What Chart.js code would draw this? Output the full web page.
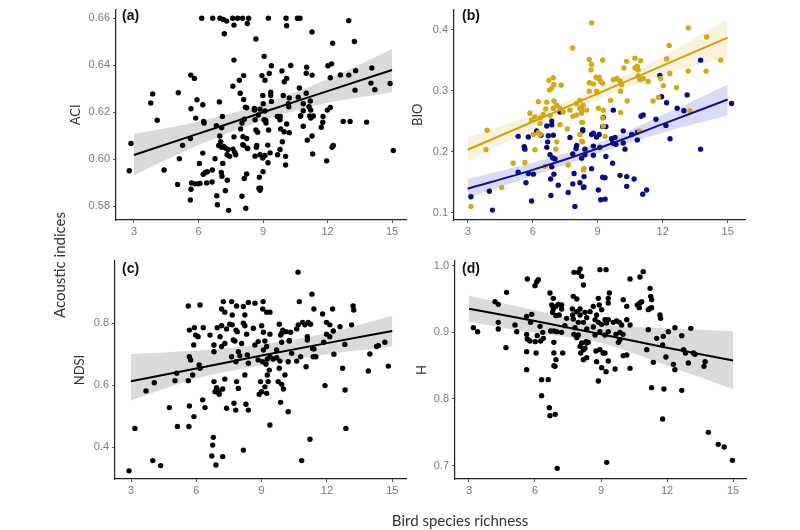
<!DOCTYPE html>
<html>
<head>
<meta charset="utf-8">
<script src="https://cdn.jsdelivr.net/npm/chart.js@4.4.0/dist/chart.umd.min.js"></script>
<style>
  body { margin: 0; width: 800px; height: 530px; background: #fff; position: relative; overflow: hidden; }
  canvas { position: absolute; }
  .tag { position: absolute; font: bold 14px "Liberation Sans", Arial, sans-serif; color: #111; line-height: 16px; }
  .outer { position: absolute; font: 15px Lato, sans-serif; color: #333; white-space: nowrap; transform: translate(-50%, -50%); }
</style>
</head>
<body>
<canvas id="chartA" width="350" height="245" style="left:60px;top:0px"></canvas>
<canvas id="chartB" width="349" height="245" style="left:400px;top:0px"></canvas>
<canvas id="chartC" width="350" height="259" style="left:60px;top:245px"></canvas>
<canvas id="chartD" width="350" height="259" style="left:400px;top:245px"></canvas>
<div class="tag" style="left:122px;top:7px">(a)</div>
<div class="tag" style="left:462px;top:7px">(b)</div>
<div class="tag" style="left:122px;top:260px">(c)</div>
<div class="tag" style="left:462px;top:260px">(d)</div>
<div class="outer" style="left:59px;top:265px;transform:translate(-50%,-50%) rotate(-90deg)">Acoustic indices</div>
<div class="outer" style="left:460px;top:520px">Bird species richness</div>
<script>
// richness ticks shared by all panels
const xTicks = [3, 6, 9, 12, 15];
const xTickLabels = ['3', '6', '9', '12', '15'];
// x positions where the fitted lines and bands were read
const fitX = [3, 6, 9, 12, 15];

// (a) ACI
const aciTicks = [0.58, 0.60, 0.62, 0.64, 0.66];
const aciTickLabels = ['0.58', '0.60', '0.62', '0.64', '0.66'];
const aciPoints = [[6.15,0.66],[6.66,0.66],[7.0,0.66],[7.15,0.6595],[7.31,0.6588],[7.59,0.66],[7.82,0.66],[8.05,0.66],[8.33,0.66],[7.2,0.6534],[7.65,0.6571],[8.27,0.6578],[8.67,0.6512],[7.65,0.6422],[5.64,0.6358],[5.81,0.6344],[8.1,0.6356],[7.9,0.6336],[7.6,0.6311],[7.94,0.6281],[3.87,0.6278],[5.06,0.6283],[3.78,0.6239],[5.93,0.6253],[6.2,0.6232],[5.65,0.6215],[6.97,0.6244],[8.1,0.6254],[8.18,0.6221],[4.08,0.6166],[5.87,0.6175],[6.24,0.6161],
[9.25,0.66],[10.07,0.66],[10.1,0.6568],[10.6,0.66],[10.72,0.66],[12.99,0.659],[11.28,0.6542],[12.24,0.6494],[13.25,0.6501],[9.05,0.6438],[9.39,0.6398],[10.29,0.6399],[11.03,0.6392],[12.02,0.6398],[12.19,0.6406],[9.88,0.6376],[9.29,0.6365],[8.95,0.6356],[9.09,0.6336],[11.01,0.6366],[11.28,0.6358],[10.1,0.6344],[9.99,0.633],[12.6,0.6359],[12.99,0.6358],[13.31,0.6377],[14.06,0.6388],[12.13,0.6347],[14.02,0.6324],[14.91,0.6322],[13.28,0.6294],[14.2,0.6296],[10.69,0.6303],[9.36,0.6285],[9.36,0.6271],[8.99,0.6271],[9.94,0.6271],[10.22,0.6261],[10.64,0.6264],[11.01,0.6281],[9.39,0.6246],[8.24,0.6219],[8.6,0.6216],[9.01,0.6236],[8.86,0.6213],[9.09,0.6205],[10.18,0.6236],[10.2,0.6223],[10.87,0.6236],[11.2,0.6248],[11.14,0.6223],[10.87,0.6206],[11.22,0.6209],[11.99,0.6209],[12.13,0.622],[9.67,0.6182],[9.8,0.6182],[9.13,0.6165],[8.63,0.6168],[10.75,0.6184],[11.17,0.6184],[11.79,0.6182],[12.73,0.6161],[13.05,0.6161],[13.82,0.6158],
[2.78,0.5951],[2.86,0.6067],[4.4,0.5954],[5.11,0.6002],[5.26,0.6059],[5.62,0.6088],[6.26,0.6154],[6.2,0.6026],[6.04,0.5982],[6.22,0.5936],[6.32,0.5943],[6.41,0.5947],[6.64,0.5954],[6.77,0.6002],[5.03,0.5892],[5.68,0.5899],[5.84,0.5895],[5.99,0.5895],[6.07,0.5897],[6.38,0.5899],[6.63,0.5903],[5.65,0.5872],[5.62,0.5826],[6.85,0.5844],[6.88,0.5806],[7.25,0.5866],[7.4,0.5782],[7.06,0.5943],[7.09,0.5927],[7.13,0.5982],[7.34,0.591],[6.94,0.6058],[7.08,0.6051],[7.17,0.6054],[7.27,0.6047],[7.37,0.6041],[7.33,0.6019],[7.45,0.6012],[7.6,0.6043],[7.68,0.6029],[7.73,0.6019],[7.03,0.6074],[6.99,0.6099],[7.08,0.6134],[7.11,0.6182],[6.83,0.6143],[8.02,0.6154],[8.13,0.617],[7.96,0.6129],[8.07,0.6096],[8.24,0.6088],[7.65,0.6095],[8.1,0.6059],[8.29,0.6045],[8.63,0.6013],[8.69,0.6051],[8.13,0.5918],[8.24,0.5937],[8.02,0.5842],[8.2,0.5791],[8.81,0.5876],
[8.89,0.5876],[8.86,0.5868],[8.83,0.5923],[9.0,0.5947],[9.23,0.5985],[8.86,0.6019],[8.99,0.6005],[9.09,0.6016],[9.33,0.6027],[9.68,0.6019],[10.05,0.6012],[10.05,0.5975],[9.79,0.6041],[9.9,0.6074],[9.22,0.606],[8.71,0.6058],[8.27,0.6047],[8.06,0.6062],[8.75,0.6115],[8.67,0.6124],[9.05,0.6168],[9.14,0.6154],[9.26,0.6124],[9.82,0.6129],[9.98,0.6117],[10.22,0.6113],[10.1,0.615],[9.79,0.6168],[10.87,0.614],[11.22,0.6175],[11.34,0.6184],[11.78,0.6157],[11.71,0.6136],[10.75,0.6184],[11.28,0.6099],[11.06,0.6081],[11.31,0.6022],[11.96,0.5993],[12.27,0.6058],[12.21,0.6051],[15.06,0.6037],[8.6,0.6209],[8.78,0.6188]];
const aciFit = [0.6018, 0.6109, 0.6200, 0.6290, 0.6380];
const aciUpper = [0.6107, 0.6160, 0.6235, 0.6340, 0.6469];
const aciLower = [0.5932, 0.6060, 0.6165, 0.6240, 0.6284];

// (b) BIO, two groups
const bioTicks = [0.1, 0.2, 0.3, 0.4];
const bioTickLabels = ['0.1', '0.2', '0.3', '0.4'];
const bioGoldPoints = [[7.85,0.370],[6.95,0.321],[6.75,0.317],[6.98,0.310],[6.88,0.304],[6.77,0.301],[7.31,0.309],[6.26,0.282],[6.65,0.281],[6.98,0.283],[7.11,0.276],[7.26,0.271],[6.95,0.271],[6.6,0.270],[5.87,0.263],[6.1,0.257],[6.34,0.255],[6.49,0.261],[6.8,0.259],[7.41,0.265],[7.72,0.268],[8.18,0.271],[8.26,0.263],[8.49,0.268],[8.03,0.279],
[8.72,0.411],[13.18,0.403],[14.03,0.388],[12.3,0.374],[8.61,0.351],[8.72,0.343],[9.23,0.35],[8.69,0.334],[8.92,0.322],[8.61,0.313],[8.8,0.311],[9.03,0.320],[9.14,0.315],[9.23,0.312],[9.07,0.322],[10.34,0.348],[10.72,0.353],[10.98,0.349],[10.21,0.337],[10.72,0.337],[10.87,0.334],[10.83,0.340],[12.18,0.352],[9.72,0.318],[10.03,0.316],[10.11,0.310],[9.88,0.320],[11.1,0.320],[11.33,0.315],[10.87,0.324],[10.95,0.318],[11.9,0.32],[12.33,0.328],[12.03,0.308],[12.64,0.305],[13.18,0.332],[14.0,0.332],[14.68,0.350],[8.61,0.299],[8.95,0.299],[10.06,0.299],[9.6,0.284],[10.36,0.283],[11.56,0.283],[11.8,0.289],[8.18,0.284],[8.33,0.276],[8.26,0.268],[9.03,0.271],[9.26,0.268],[10.06,0.264],[13.26,0.267],[9.23,0.255],
[3.15,0.110],[3.9,0.235],[3.85,0.203],[4.57,0.141],[5.1,0.181],[5.64,0.182],[5.95,0.252],[6.34,0.246],[6.03,0.228],[6.26,0.231],[6.1,0.203],[6.34,0.228],[7.11,0.216],[7.07,0.204],[7.26,0.244],[7.6,0.237],[7.85,0.258],[8.03,0.26],[8.26,0.248],[8.18,0.228],[8.31,0.216],[8.34,0.170],[8.26,0.217],[7.64,0.178],[6.57,0.176],
[8.31,0.248],[9.26,0.242],[9.34,0.225],[8.37,0.172],[10.93,0.234]];
const bioBluePoints = [[7.26,0.265],[6.88,0.25],
[13.75,0.350],[11.87,0.325],[11.95,0.290],[12.18,0.280],[13.13,0.293],[12.67,0.271],[12.98,0.267],[9.72,0.268],[11.1,0.260],[11.0,0.258],[11.69,0.253],[15.18,0.279],[9.26,0.256],
[3.15,0.126],[4.0,0.135],[4.14,0.104],[5.33,0.225],[5.8,0.224],[5.61,0.208],[5.64,0.204],[5.33,0.166],[5.8,0.164],[6.03,0.163],[5.69,0.149],[5.95,0.119],[6.18,0.234],[6.38,0.227],[6.65,0.242],[6.72,0.226],[6.88,0.244],[6.95,0.227],[6.69,0.216],[6.65,0.207],[6.8,0.195],[6.92,0.19],[7.03,0.188],[6.88,0.175],[6.98,0.163],[6.83,0.155],[7.18,0.145],[6.84,0.128],[7.72,0.223],[8.03,0.210],[8.0,0.205],[7.85,0.196],[8.26,0.189],[7.91,0.164],[7.85,0.147],[7.64,0.133],[7.95,0.110],[8.18,0.149],[8.34,0.141],[8.41,0.195],[8.31,0.236],
[12.15,0.243],[8.31,0.234],[8.72,0.228],[8.8,0.230],[8.95,0.224],[9.07,0.228],[9.64,0.221],[9.8,0.223],[9.69,0.214],[9.84,0.212],[10.18,0.214],[10.26,0.204],[10.57,0.228],[10.83,0.232],[10.83,0.219],[10.18,0.234],[9.23,0.241],[9.38,0.241],[9.1,0.207],[8.8,0.209],[8.41,0.204],[12.34,0.221],[13.75,0.204],[8.8,0.194],[9.38,0.192],[9.69,0.181],[8.72,0.172],[8.37,0.159],[8.37,0.142],[9.23,0.158],[9.34,0.157],[10.03,0.161],[10.34,0.159],[10.68,0.155],[10.34,0.143],[9.03,0.137],[9.14,0.121],[9.34,0.122],[11.08,0.130],[11.26,0.137]];
const bioGoldFit = [0.203, 0.249, 0.295, 0.341, 0.387];
const bioGoldUpper = [0.223, 0.261, 0.304, 0.356, 0.418];
const bioGoldLower = [0.184, 0.237, 0.286, 0.326, 0.354];
const bioBlueFit = [0.139, 0.170, 0.205, 0.245, 0.2855];
const bioBlueUpper = [0.155, 0.182, 0.214, 0.260, 0.310];
const bioBlueLower = [0.124, 0.160, 0.197, 0.231, 0.259];

// (c) NDSI
const ndsiTicks = [0.4, 0.6, 0.8];
const ndsiTickLabels = ['0.4', '0.6', '0.8'];
const ndsiPoints = [[2.91,0.324],[3.18,0.461],[4.0,0.357],[4.36,0.341],[3.69,0.582],[4.07,0.608],[4.76,0.528],[5.13,0.467],[5.66,0.467],[5.02,0.615],[5.1,0.639],[5.63,0.615],[5.68,0.533],[5.89,0.499],[5.83,0.633],[5.63,0.856],[6.17,0.859],[5.68,0.778],[5.91,0.786],[5.68,0.692],[5.74,0.682],[5.88,0.73],[5.97,0.762],[6.08,0.757],[6.32,0.786],[6.13,0.666],[6.17,0.655],[6.29,0.553],[6.4,0.528],[6.78,0.432],[6.75,0.407],[6.71,0.372],[6.9,0.343],[7.21,0.370],[6.63,0.762],[6.81,0.73],[6.96,0.786],[7.16,0.792],[7.24,0.87],[7.16,0.846],[7.31,0.836],[7.39,0.782],[7.31,0.735],[7.16,0.725],[6.81,0.708],[7.09,0.757],[6.81,0.612],[6.93,0.592],[6.86,0.579],[7.05,0.582],[7.21,0.588],[7.31,0.62],[7.05,0.571],[7.39,0.526],[7.73,0.542],[7.81,0.520],[7.62,0.87],[7.85,0.856],[7.65,0.827],[7.65,0.795],[7.82,0.778],[7.77,0.743],[7.93,0.708],[7.85,0.612],[7.62,0.692],[7.82,0.676],
[8.16,0.854],[8.39,0.867],[8.69,0.865],[9.07,0.87],[9.05,0.846],[9.23,0.836],[9.38,0.836],[8.23,0.827],[10.67,0.965],[10.73,0.87],[11.31,0.894],[11.4,0.846],[11.8,0.83],[12.26,0.846],[13.2,0.856],[13.23,0.843],[7.54,0.797],[8.16,0.8],[8.23,0.792],[8.31,0.765],[7.7,0.746],[8.08,0.735],[7.88,0.773],[8.62,0.784],[9.0,0.792],[9.08,0.771],[9.38,0.765],[9.81,0.797],[9.97,0.778],[9.92,0.768],[10.12,0.773],[10.33,0.771],[9.87,0.762],[10.27,0.745],[10.61,0.782],[10.68,0.795],[10.88,0.803],[10.99,0.795],[11.14,0.803],[11.25,0.797],[11.1,0.757],[11.1,0.746],[11.34,0.719],[11.49,0.692],[11.98,0.803],[12.13,0.795],[12.29,0.775],[11.98,0.765],[12.13,0.757],[11.85,0.739],[12.6,0.789],[12.82,0.732],[13.13,0.795],[12.32,0.7],[11.91,0.599],[12.83,0.585],[12.72,0.655],[12.87,0.461],[11.22,0.426],[10.84,0.357],[13.9,0.646],[13.97,0.701],[14.28,0.725],[14.36,0.728],[14.66,0.739],[14.82,0.662],[7.93,0.59],[8.28,0.539],[8.39,0.52],[8.16,0.391],[9.38,0.472],[9.87,0.545],[10.22,0.515],
[8.89,0.571],[9.0,0.579],[9.23,0.574],[9.15,0.595],[9.3,0.612],[8.95,0.612],[9.26,0.633],[9.35,0.649],[9.2,0.668],[9.26,0.685],[9.38,0.692],[8.84,0.682],[9.04,0.676],[9.53,0.685],[9.69,0.689],[9.84,0.678],[9.81,0.655],[9.76,0.612],[9.92,0.603],[10.0,0.588],[10.07,0.633],[10.22,0.676],[10.38,0.703],[10.61,0.678],[10.79,0.692],[11.04,0.66],[11.37,0.692],[11.4,0.717],[9.08,0.714],[9.23,0.725],[9.15,0.743],[8.69,0.73],[8.84,0.741],[8.34,0.698],[8.23,0.633],[8.0,0.695],[8.39,0.671],[9.69,0.714],[9.92,0.739],[10.27,0.743]];
const ndsiFit = [0.613, 0.654, 0.696, 0.736, 0.775];
const ndsiUpper = [0.700, 0.712, 0.732, 0.768, 0.824];
const ndsiLower = [0.551, 0.622, 0.665, 0.700, 0.724];

// (d) H
const hTicks = [0.7, 0.8, 0.9, 1.0];
const hTickLabels = ['0.7', '0.8', '0.9', '1.0'];
const hPoints = [[3.2,0.907],[3.39,0.901],[4.18,0.946],[4.33,0.942],[4.33,0.915],[4.33,0.905],[4.71,0.96],[4.68,0.877],[5.09,0.911],[5.17,0.901],[5.65,0.98],[6.0,0.97],[6.08,0.976],[6.15,0.979],[5.62,0.924],[5.85,0.927],[5.8,0.915],[5.62,0.897],[5.65,0.89],[5.77,0.887],[5.62,0.871],[5.62,0.844],[6.05,0.869],[6.01,0.886],[6.1,0.895],[6.23,0.909],[6.35,0.9],[6.26,0.887],[6.38,0.891],[6.3,0.829],[6.6,0.829],[6.3,0.805],[6.65,0.787],[6.68,0.775],[6.92,0.777],[7.01,0.696],[6.71,0.902],[6.86,0.902],[6.99,0.901],[7.21,0.9],[6.86,0.885],[6.86,0.869],[6.95,0.859],[6.91,0.849],[6.86,0.85],[7.26,0.869],[6.68,0.959],[6.83,0.951],[6.76,0.941],[6.95,0.939],[7.06,0.942],[7.21,0.941],[6.8,0.93],[6.95,0.925],[7.1,0.926],[7.21,0.935],[6.83,0.935],[7.44,0.921],[7.36,0.91],[7.71,0.926],[7.74,0.954],[7.9,0.95],[7.77,0.99],[7.97,0.99],[8.05,0.995],[8.12,0.984],[8.2,0.971],[7.7,0.935],[7.9,0.931],[8.05,0.935],[8.27,0.93],[8.35,0.922],[8.2,0.915],[7.97,0.915],[7.74,0.92],[7.77,0.897],[7.82,0.907],[7.9,0.892],[8.05,0.879],[8.08,0.869],[8.2,0.874],[8.2,0.859],[8.35,0.862],[8.32,0.886],[8.42,0.885],[8.35,0.905],[7.97,0.896],
[8.95,0.994],[9.23,0.994],[9.38,0.959],[9.33,0.951],[9.33,0.944],[8.88,0.951],[8.92,0.941],[9.03,0.934],[8.65,0.939],[8.8,0.926],[8.5,0.931],[8.05,0.926],[8.73,0.919],[8.88,0.915],[9.03,0.912],[9.18,0.919],[9.33,0.919],[9.25,0.914],[9.56,0.915],[9.71,0.917],[9.83,0.915],[9.94,0.911],[10.17,0.919],[10.32,0.911],[9.86,0.9],[9.68,0.897],[10.0,0.897],[8.65,0.908],[8.73,0.896],[8.95,0.901],[9.33,0.901],[9.18,0.896],[8.12,0.884],[8.27,0.876],[8.35,0.884],[8.77,0.872],[8.95,0.874],[9.18,0.869],[8.8,0.856],[9.1,0.869],[9.33,0.857],[9.03,0.847],[9.23,0.841],[8.88,0.827],[9.64,0.845],[9.79,0.885],[9.86,0.889],[10.01,0.865],[10.17,0.866],[10.32,0.846],
[10.32,0.98],[10.77,0.983],[10.92,0.991],[11.23,0.966],[11.26,0.954],[11.3,0.949],[11.15,0.934],[11.23,0.936],[11.3,0.937],[10.77,0.944],[10.65,0.941],[10.74,0.937],[10.85,0.946],[10.01,0.949],[10.17,0.939],[11.68,0.926],[11.71,0.921],[11.15,0.904],[11.53,0.891],[11.83,0.894],[12.06,0.901],[12.36,0.907],[12.67,0.895],[13.08,0.906],[11.8,0.881],[11.95,0.863],[11.38,0.855],[11.08,0.874],[12.76,0.874],[12.84,0.869],[13.2,0.869],[13.27,0.867],[12.29,0.852],[12.36,0.844],[12.97,0.854],[13.73,0.856],[13.68,0.849],[11.3,0.817],[11.86,0.815],[12.67,0.813],[11.8,0.77],[13.88,0.75],[14.33,0.732],[14.6,0.728],[14.97,0.708],[9.26,0.705]];
const hFit = [0.9355, 0.917, 0.897, 0.877, 0.8576];
const hUpper = [0.955, 0.933, 0.912, 0.906, 0.9015];
const hLower = [0.916, 0.899, 0.884, 0.850, 0.815];


const tickFont = { family: '"Liberation Sans", Arial, sans-serif', size: 11 };
const titleFont = { family: 'Lato, sans-serif', size: 13 };

const toXY = pairs => pairs.map(([x, y]) => ({ x, y }));
const alongFit = vals => fitX.map((x, i) => ({ x, y: vals[i] }));

// builds one panel: bands at the back, points, fitted lines on top
const makePanel = (id, p) => {
    const datasets = [];

    p.groups.forEach(g => {
        datasets.push({ type: 'line', data: alongFit(g.upper), fill: '+1', backgroundColor: g.band,
            borderWidth: 0, pointRadius: 0, cubicInterpolationMode: 'monotone', order: 3 });
        datasets.push({ type: 'line', data: alongFit(g.lower), fill: false,
            borderWidth: 0, pointRadius: 0, cubicInterpolationMode: 'monotone', order: 3 });
    });
    p.groups.forEach(g => {
        datasets.push({ type: 'scatter', data: toXY(g.points), backgroundColor: g.dot,
            pointRadius: 2.7, pointBorderWidth: 0, order: 2 });
    });
    p.groups.forEach(g => {
        datasets.push({ type: 'line', data: alongFit(g.fit), borderColor: g.line, borderWidth: 2,
            pointRadius: 0, fill: false, cubicInterpolationMode: 'monotone', order: 1 });
    });

    new Chart(document.getElementById(id), {
        type: 'scatter',
        data: { datasets },
        options: {
            responsive: false,
            animation: false,
            devicePixelRatio: 1,
            layout: { padding: { left: 0, top: p.padTop, right: 4, bottom: 0 }, autoPadding: false },
            plugins: { legend: { display: false }, tooltip: { enabled: false } },
            scales: {
                x: {
                    type: 'linear', min: p.xMin, max: p.xMax,
                    afterBuildTicks: s => { s.ticks = xTicks.map(v => ({ value: v })); },
                    afterFit: s => { s.height = 25; },
                    grid: { display: true, drawOnChartArea: false, drawTicks: true, tickLength: 3, color: '#555' },
                    border: { display: true, color: '#222', width: 1.2 },
                    ticks: { font: tickFont, color: '#7a7a7a', padding: 2, maxRotation: 0, autoSkip: false,
                        callback: (v, i) => xTickLabels[i] }
                },
                y: {
                    type: 'linear', min: p.yMin, max: p.yMax,
                    afterBuildTicks: s => { s.ticks = p.yTicks.map(v => ({ value: v })); },
                    afterFit: s => { s.width = p.yWidth; },
                    grid: { display: true, drawOnChartArea: false, drawTicks: true, tickLength: 3, color: '#555' },
                    border: { display: true, color: '#222', width: 1.2 },
                    ticks: { font: tickFont, color: '#7a7a7a', padding: 3, autoSkip: false,
                        callback: (v, i) => p.yTickLabels[i] },
                    title: { display: true, text: p.title, font: titleFont, color: '#333',
                        padding: { top: p.titlePad, bottom: 0 } }
                }
            }
        }
    });
};

const grey = 'rgba(150,150,150,0.35)';

makePanel('chartA', {
    title: 'ACI', xMin: 2.163, xMax: 15.65, yMin: 0.5741, yMax: 0.6637,
    yTicks: aciTicks, yTickLabels: aciTickLabels, yWidth: 56, titlePad: 8, padTop: 3,
    groups: [{ points: aciPoints, fit: aciFit, upper: aciUpper, lower: aciLower, dot: '#000', line: '#000', band: grey }]
});

makePanel('chartB', {
    title: 'BIO', xMin: 2.368, xMax: 15.8, yMin: 0.0878, yMax: 0.4329,
    yTicks: bioTicks, yTickLabels: bioTickLabels, yWidth: 54, titlePad: 10, padTop: 3,
    groups: [
        { points: bioGoldPoints, fit: bioGoldFit, upper: bioGoldUpper, lower: bioGoldLower,
          dot: '#d4a81c', line: '#cfa310', band: 'rgba(214,178,60,0.18)' },
        { points: bioBluePoints, fit: bioBlueFit, upper: bioBlueUpper, lower: bioBlueLower,
          dot: '#0c0c80', line: '#12128a', band: 'rgba(80,90,210,0.22)' }
    ]
});

makePanel('chartC', {
    title: 'NDSI', xMin: 2.265, xMax: 15.63, yMin: 0.2977, yMax: 1.001,
    yTicks: ndsiTicks, yTickLabels: ndsiTickLabels, yWidth: 55, titlePad: 12, padTop: 16,
    groups: [{ points: ndsiPoints, fit: ndsiFit, upper: ndsiUpper, lower: ndsiLower, dot: '#000', line: '#000', band: grey }]
});

makePanel('chartD', {
    title: 'H', xMin: 2.364, xMax: 15.59, yMin: 0.680, yMax: 1.007,
    yTicks: hTicks, yTickLabels: hTickLabels, yWidth: 55, titlePad: 14, padTop: 16,
    groups: [{ points: hPoints, fit: hFit, upper: hUpper, lower: hLower, dot: '#000', line: '#000', band: grey }]
});
</script>
</body>
</html>
